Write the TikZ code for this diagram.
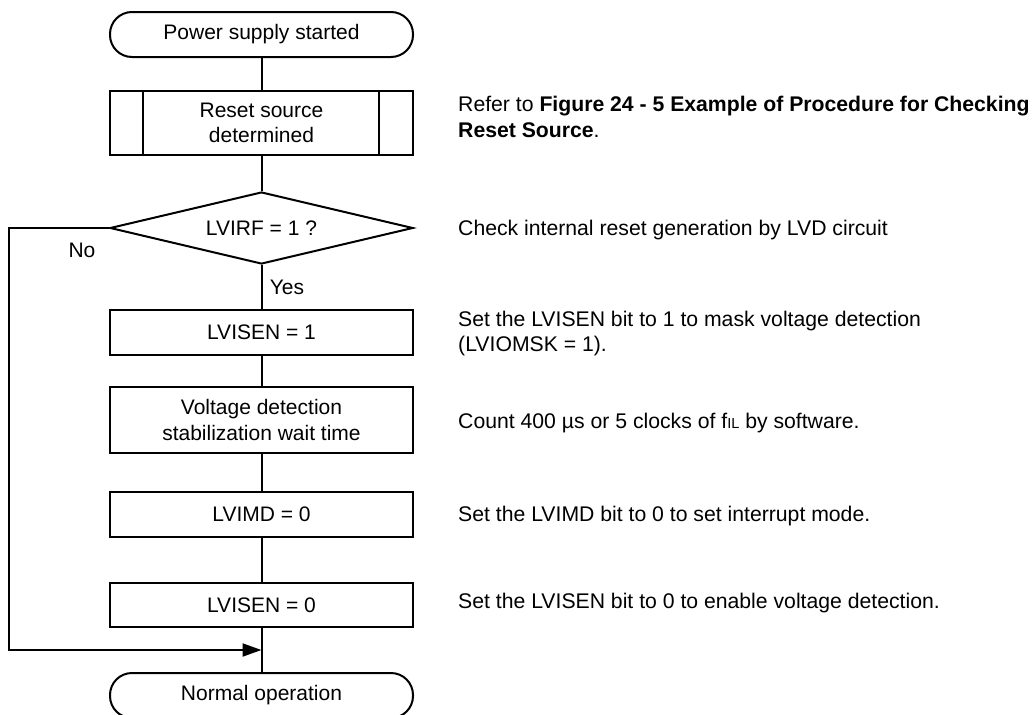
\documentclass[tikz,border=0pt]{standalone}
\usepackage{fontspec}
\setmainfont{Liberation Sans}
\usetikzlibrary{shapes.geometric,arrows.meta}
\begin{document}
\begin{tikzpicture}[x=1pt,y=-1pt,
  every node/.style={font=\fontsize{21}{25.5}\selectfont},
  proc/.style={draw, line width=2pt, minimum width=303pt, inner sep=0pt, align=center},
  term/.style={proc, rounded corners=22pt},
  conn/.style={line width=2pt},
  note/.style={anchor=west, align=left, inner sep=0pt, font=\fontsize{21.2}{25}\selectfont}]
\useasboundingbox (0,0) rectangle (1034,715);
\clip (0,0) rectangle (1034,715);
% nodes
\node[term, minimum height=45pt] (start) at (261.5,34.5) {Power supply started};
\node[proc, minimum height=64pt] (reset) at (261.5,123) {Reset source\\determined};
\draw[conn] ([xshift=34pt]reset.north west) -- ([xshift=34pt]reset.south west);
\draw[conn] ([xshift=-35pt]reset.north east) -- ([xshift=-35pt]reset.south east);
\node[diamond, draw, line width=2pt, aspect=4.2, minimum width=303pt, minimum height=72pt, inner sep=0pt] (dec) at (261.5,228) {LVIRF = 1 ?};
\node[proc, minimum height=45pt] (b1) at (261.5,332.5) {LVISEN = 1};
\node[proc, minimum height=66pt] (b2) at (261.5,420) {Voltage detection\\stabilization wait time};
\node[proc, minimum height=45pt] (b3) at (261.5,514.5) {LVIMD = 0};
\node[proc, minimum height=44pt] (b4) at (261.5,605) {LVISEN = 0};
\node[term, minimum height=45pt] (end) at (261.5,695.5) {Normal operation};
\coordinate (join) at (261.5,650);
\coordinate (nl) at (9,228);
\coordinate (nb) at (9,650);
% labels
\node[inner sep=0pt] (no) at (82,250) {No};
\node[inner sep=0pt] (yes) at (287,287) {Yes};
% connectors
\draw[conn] (start) -- (reset);
\draw[conn] (reset) -- (dec);
\draw[conn] (dec) -- (b1);
\draw[conn] (b1) -- (b2);
\draw[conn] (b2) -- (b3);
\draw[conn] (b3) -- (b4);
\draw[conn] (b4) -- (end);
\draw[conn, -{Triangle[length=19pt,width=13pt]}] (dec.west) -- (nl) -- (nb) -- (join);
% notes
\node[note, font=\fontsize{21.2}{26}\selectfont] (n1) at (458,117) {Refer to \textbf{Figure 24 - 5 Example of Procedure for Checking}\\\textbf{Reset Source}.};
\node[note] (n2) at (458,230) {Check internal reset generation by LVD circuit};
\node[note] (n3) at (458,333.5) {Set the LVISEN bit to 1 to mask voltage detection\\(LVIOMSK = 1).};
\node[note] (n4) at (458,423) {Count 400 µs or 5 clocks of f{\fontsize{14.5}{14.5}\selectfont IL} by software.};
\node[note] (n5) at (458,516) {Set the LVIMD bit to 0 to set interrupt mode.};
\node[note] (n6) at (458,603) {Set the LVISEN bit to 0 to enable voltage detection.};
\end{tikzpicture}
\end{document}
